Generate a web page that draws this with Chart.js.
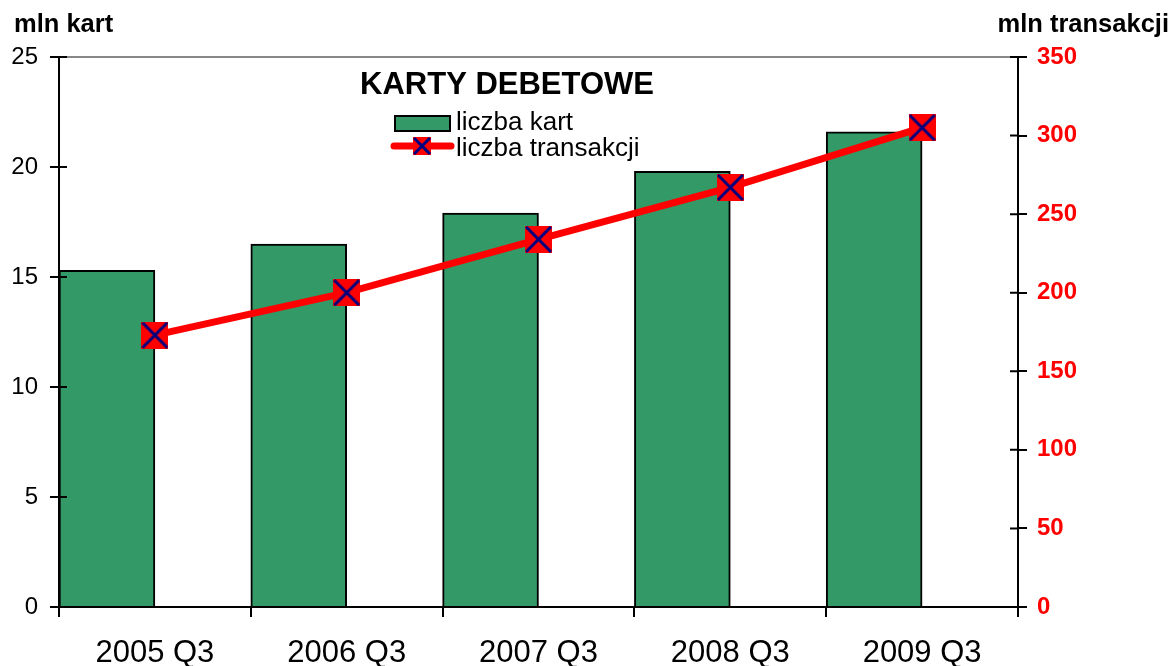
<!DOCTYPE html>
<html>
<head>
<meta charset="utf-8">
<script src="https://cdn.jsdelivr.net/npm/chart.js@4"></script>
<style>
  body { margin: 0; background: #fff; }
  #wrap { width: 1174px; height: 666px; }
</style>
</head>
<body>
<div id="wrap"><canvas id="chart"></canvas></div>
<script>
const categories = ['2005 Q3', '2006 Q3', '2007 Q3', '2008 Q3', '2009 Q3'];
const liczbaKart = [15.3, 16.5, 17.9, 19.8, 21.6];
const liczbaTransakcji = [173, 200, 234, 267, 305];
const leftTicks = [0, 5, 10, 15, 20, 25];
const rightTicks = [0, 50, 100, 150, 200, 250, 300, 350];

const FONT = '"Liberation Sans", Arial, sans-serif';
const GREEN = '#339966';
const RED = '#ff0000';
const NAVY = '#000080';

// marker: red square with navy cross
function makeMarker(size) {
  const c = document.createElement('canvas');
  c.width = size; c.height = size;
  const g = c.getContext('2d');
  g.fillStyle = RED;
  g.fillRect(0, 0, size, size);
  g.strokeStyle = NAVY;
  g.lineWidth = 3;
  g.beginPath();
  g.moveTo(1, 1); g.lineTo(size - 1, size - 1);
  g.moveTo(size - 1, 1); g.lineTo(1, size - 1);
  g.stroke();
  return c;
}
const marker = makeMarker(27);
const legendMarker = makeMarker(18);

// titles, legend and inward tick marks
const extras = {
  id: 'extras',
  afterDraw(chart) {
    const ctx = chart.ctx;
    const area = chart.chartArea;
    ctx.save();
    ctx.fillStyle = '#000';
    ctx.textBaseline = 'middle';
    ctx.font = 'bold 25.5px ' + FONT;
    ctx.textAlign = 'left';
    ctx.fillText('mln kart', 14, 25);
    ctx.textAlign = 'right';
    ctx.fillText('mln transakcji', 1169, 25);

    ctx.font = 'bold 31px ' + FONT;
    ctx.textAlign = 'center';
    ctx.fillText('KARTY DEBETOWE', 507, 85);

    // legend
    ctx.fillStyle = GREEN;
    ctx.fillRect(395, 116, 55, 15);
    ctx.strokeStyle = '#000';
    ctx.lineWidth = 2;
    ctx.strokeRect(395, 116, 55, 15);
    ctx.strokeStyle = RED;
    ctx.lineWidth = 7;
    ctx.lineCap = 'round';
    ctx.beginPath();
    ctx.moveTo(394, 146); ctx.lineTo(451, 146);
    ctx.stroke();
    ctx.drawImage(legendMarker, 413, 137);
    ctx.fillStyle = '#000';
    ctx.font = '26px ' + FONT;
    ctx.textAlign = 'left';
    ctx.fillText('liczba kart', 456, 123);
    ctx.fillText('liczba transakcji', 456, 149);

    // inward half of crossing tick marks
    ctx.strokeStyle = '#000';
    ctx.lineWidth = 2;
    ctx.lineCap = 'butt';
    const y = chart.scales.y, y1 = chart.scales.y1;
    ctx.beginPath();
    y.ticks.forEach(t => {
      const p = y.getPixelForValue(t.value);
      ctx.moveTo(area.left, p); ctx.lineTo(area.left + 8, p);
    });
    y1.ticks.forEach(t => {
      const p = y1.getPixelForValue(t.value);
      ctx.moveTo(area.right - 8, p); ctx.lineTo(area.right, p);
    });
    ctx.stroke();
    ctx.restore();
  }
};

new Chart(document.getElementById('chart'), {
  data: {
    labels: categories,
    datasets: [
      {
        type: 'line',
        label: 'liczba transakcji',
        data: liczbaTransakcji,
        yAxisID: 'y1',
        borderColor: RED,
        borderWidth: 7,
        pointStyle: marker,
        pointRadius: 13,
        pointHoverRadius: 13,
        order: 0
      },
      {
        type: 'bar',
        label: 'liczba kart',
        data: liczbaKart,
        yAxisID: 'y',
        backgroundColor: GREEN,
        borderColor: '#000',
        borderWidth: 2,
        borderSkipped: 'bottom',
        categoryPercentage: 1,
        barPercentage: 1,
        order: 1
      },
      {
        // empty slot so the bars sit in the left half of each category
        type: 'bar',
        label: '',
        data: categories.map(() => null),
        yAxisID: 'y',
        categoryPercentage: 1,
        barPercentage: 1,
        order: 2
      }
    ]
  },
  options: {
    responsive: true,
    maintainAspectRatio: false,
    animation: false,
    layout: { padding: { top: 57 } },
    plugins: {
      legend: { display: false },
      tooltip: { enabled: false }
    },
    scales: {
      x: {
        offset: true,
        grid: { display: true, drawOnChartArea: false, offset: true, tickLength: 10, color: '#000', lineWidth: 2 },
        border: { color: '#000', width: 2 },
        ticks: { color: '#000', font: { family: FONT, size: 31 }, padding: 18, maxRotation: 0 },
        afterFit(s) { s.height = 59; }
      },
      y: {
        position: 'left',
        min: 0,
        max: 25,
        afterBuildTicks(s) { s.ticks = leftTicks.map(v => ({ value: v })); },
        grid: {
          drawOnChartArea: true,
          tickLength: 9,
          tickColor: '#000',
          lineWidth: 2,
          color: c => (c.tick && c.tick.value === 25 ? '#888' : 'transparent')
        },
        border: { color: '#000', width: 2 },
        ticks: { color: '#000', font: { family: FONT, size: 24 }, padding: 12 },
        afterFit(s) { s.width = 59; }
      },
      y1: {
        position: 'right',
        min: 0,
        max: 350,
        afterBuildTicks(s) { s.ticks = rightTicks.map(v => ({ value: v })); },
        grid: { drawOnChartArea: false, tickLength: 9, color: '#000', lineWidth: 2 },
        border: { color: '#000', width: 2 },
        ticks: { color: RED, font: { family: FONT, size: 24, weight: 'bold' }, padding: 10 },
        afterFit(s) { s.width = 156; }
      }
    }
  },
  plugins: [extras]
});
</script>
</body>
</html>
